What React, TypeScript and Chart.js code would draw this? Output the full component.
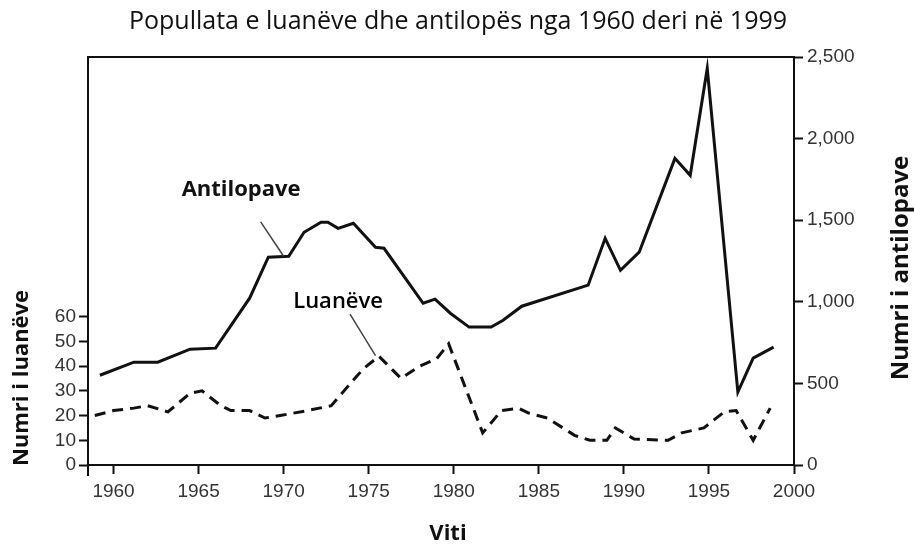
import React, { useEffect, useRef } from "react";
import { Chart, registerables } from "chart.js";

Chart.register(...registerables);

const chartTitle = "Popullata e luanëve dhe antilopës nga 1960 deri në 1999";
const xAxisTitle = "Viti";
const leftAxisTitle = "Numri i luanëve";
const rightAxisTitle = "Numri i antilopave";
const antelopeLabel = "Antilopave";
const lionLabel = "Luanëve";

const xTicks = [1960, 1965, 1970, 1975, 1980, 1985, 1990, 1995, 2000];
const lionTicks = [0, 10, 20, 30, 40, 50, 60];
const antelopeTicks = [0, 500, 1000, 1500, 2000, 2500];

const lionYears = [
  1958.9, 1960.0, 1961.2, 1962.0, 1963.2, 1964.5, 1965.2, 1966.3, 1966.9, 1968.0,
  1968.9, 1969.8, 1971.4, 1972.8, 1973.8, 1974.7, 1975.6, 1976.9, 1978.0, 1979.0,
  1979.7, 1981.7, 1982.8, 1983.8, 1984.4, 1985.5, 1987.1, 1988.0, 1989.0, 1989.5,
  1990.6, 1992.6, 1993.4, 1994.7, 1995.9, 1996.6, 1997.6, 1998.6,
];
const lionCounts = [
  20, 22, 23, 24, 21.5, 29, 30, 24, 22, 22,
  19, 20, 22, 24, 32, 39, 44, 35, 40, 43,
  49, 13, 22, 23, 21, 19, 12, 10, 10, 15,
  10.5, 10, 13, 15, 21.5, 22, 10, 23,
];

const antelopeYears = [
  1959.2, 1961.2, 1962.6, 1964.5, 1966.0, 1968.0, 1969.1, 1970.3, 1971.2, 1972.2,
  1972.6, 1973.2, 1974.1, 1975.4, 1975.9, 1978.2, 1978.9, 1979.8, 1980.9, 1982.2,
  1982.9, 1984.0, 1987.9, 1988.9, 1989.8, 1990.9, 1993.0, 1993.9, 1994.9, 1996.7,
  1997.6, 1998.8,
];
const antelopeCounts = [
  550, 630, 630, 710, 716, 1022, 1273, 1279, 1426, 1487,
  1487, 1450, 1481, 1334, 1328, 991, 1016, 930, 845, 845,
  887, 973, 1102, 1389, 1193, 1304, 1879, 1775, 2430, 447,
  655, 722,
];

// annotation anchors in data units
const antelopeLabelAt = { x: 1967.5, y: 1686 };
const antelopeLeader = [{ x: 1968.65, y: 1490 }, { x: 1970.0, y: 1279 }];
const lionLabelAt = { x: 1973.2, y: 66 };
const lionLeader = [{ x: 1973.9, y: 61 }, { x: 1975.4, y: 44.2 }];

const TEXT = "#111";
const SANS = "'Open Sans', 'Noto Sans', sans-serif";
const TICKFONT = "'Liberation Sans', Arial, sans-serif";

const decorPlugin = {
  id: "decor",
  beforeDraw(chart: any) {
    const { ctx } = chart;
    ctx.save();
    ctx.fillStyle = "#fff";
    ctx.fillRect(0, 0, chart.width, chart.height);
    ctx.restore();
  },
  afterDraw(chart: any) {
    const { ctx, chartArea: a, scales } = chart;
    const x = scales.x, yL = scales.y, yR = scales.y1;
    ctx.save();
    // frame
    ctx.strokeStyle = "#111";
    ctx.lineWidth = 2;
    ctx.strokeRect(a.left, a.top, a.right - a.left, a.bottom - a.top);
    ctx.beginPath();
    ctx.moveTo(a.left, a.bottom);
    ctx.lineTo(a.left, a.bottom + 11);
    ctx.stroke();

    // title
    ctx.fillStyle = TEXT;
    ctx.font = `25px ${SANS}`;
    ctx.textAlign = "center";
    ctx.textBaseline = "alphabetic";
    ctx.fillText(chartTitle, 458, 29);

    // x title
    ctx.font = `bold 22px ${SANS}`;
    ctx.fillText(xAxisTitle, 448, 540);

    // left title
    ctx.save();
    ctx.translate(22, 378);
    ctx.rotate(-Math.PI / 2);
    ctx.textBaseline = "middle";
    ctx.font = `bold 22px ${SANS}`;
    ctx.fillText(leftAxisTitle, 0, 0);
    ctx.restore();

    // right title
    ctx.save();
    ctx.translate(901, 268);
    ctx.rotate(-Math.PI / 2);
    ctx.textBaseline = "middle";
    ctx.font = `bold 24px ${SANS}`;
    ctx.fillText(rightAxisTitle, 0, 0);
    ctx.restore();

    // annotations
    ctx.textBaseline = "middle";
    ctx.font = `bold 22px ${SANS}`;
    ctx.fillText(antelopeLabel, x.getPixelForValue(antelopeLabelAt.x), yR.getPixelForValue(antelopeLabelAt.y));
    ctx.fillStyle = "#000";
    ctx.font = `600 22px ${SANS}`;
    ctx.fillText(lionLabel, x.getPixelForValue(lionLabelAt.x), yL.getPixelForValue(lionLabelAt.y));

    ctx.strokeStyle = "#444";
    ctx.lineWidth = 1.5;
    ctx.beginPath();
    ctx.moveTo(x.getPixelForValue(antelopeLeader[0].x), yR.getPixelForValue(antelopeLeader[0].y));
    ctx.lineTo(x.getPixelForValue(antelopeLeader[1].x), yR.getPixelForValue(antelopeLeader[1].y));
    ctx.moveTo(x.getPixelForValue(lionLeader[0].x), yL.getPixelForValue(lionLeader[0].y));
    ctx.lineTo(x.getPixelForValue(lionLeader[1].x), yL.getPixelForValue(lionLeader[1].y));
    ctx.stroke();
    ctx.restore();
  },
};

export default function App() {
  const ref = useRef<HTMLCanvasElement>(null);
  useEffect(() => {
    document.body.style.margin = "0";
    const canvas = ref.current!;
    const tickGrid = {
      display: true,
      drawOnChartArea: false,
      drawTicks: true,
      tickLength: 9,
      tickColor: "#111",
      tickWidth: 2,
    };
    const tickFont = { family: TICKFONT, size: 19 };
    const chart = new Chart(canvas, {
      type: "line",
      data: {
        datasets: [
          {
            label: "Antilopave",
            data: antelopeYears.map((yr, i) => ({ x: yr, y: antelopeCounts[i] })),
            yAxisID: "y1",
            borderColor: "#111",
            borderWidth: 3,
            pointRadius: 0,
            tension: 0,
            fill: false,
            borderJoinStyle: "miter",
          },
          {
            label: "Luanëve",
            data: lionYears.map((yr, i) => ({ x: yr, y: lionCounts[i] })),
            yAxisID: "y",
            borderColor: "#111",
            borderWidth: 3,
            borderDash: [11, 7],
            pointRadius: 0,
            tension: 0,
            fill: false,
          },
        ],
      },
      options: {
        responsive: false,
        animation: false,
        layout: { padding: { top: 57, left: 0, right: 0, bottom: 0 } },
        plugins: {
          legend: { display: false },
          title: { display: false },
          tooltip: { enabled: false },
        },
        scales: {
          x: {
            type: "linear",
            min: 1958.5,
            max: 2000,
            afterBuildTicks: (s: any) => {
              s.ticks = xTicks.map((v) => ({ value: v }));
            },
            afterFit: (s: any) => {
              s.height = 83;
            },
            ticks: {
              color: "#333",
              font: tickFont,
              padding: 6,
              callback: (v: any) => String(v),
              maxRotation: 0,
            },
            grid: tickGrid,
            border: { display: true, color: "#111", width: 2 },
          },
          y: {
            type: "linear",
            position: "left",
            min: 0,
            max: 165,
            afterBuildTicks: (s: any) => {
              s.ticks = lionTicks.map((v) => ({ value: v }));
            },
            afterFit: (s: any) => {
              s.width = 88;
            },
            ticks: { color: "#333", font: tickFont, padding: 3 },
            grid: tickGrid,
            border: { display: true, color: "#111", width: 2 },
          },
          y1: {
            type: "linear",
            position: "right",
            min: 0,
            max: 2500,
            afterBuildTicks: (s: any) => {
              s.ticks = antelopeTicks.map((v) => ({ value: v }));
            },
            afterFit: (s: any) => {
              s.width = 120;
            },
            ticks: {
              color: "#333",
              font: tickFont,
              padding: 4,
              callback: (v: any) => Number(v).toLocaleString("en-US"),
            },
            grid: tickGrid,
            border: { display: true, color: "#111", width: 2 },
          },
        },
      },
      plugins: [decorPlugin],
    } as any);
    return () => chart.destroy();
  }, []);
  return <canvas ref={ref} width={914} height={548} style={{ display: "block" }} />;
}
